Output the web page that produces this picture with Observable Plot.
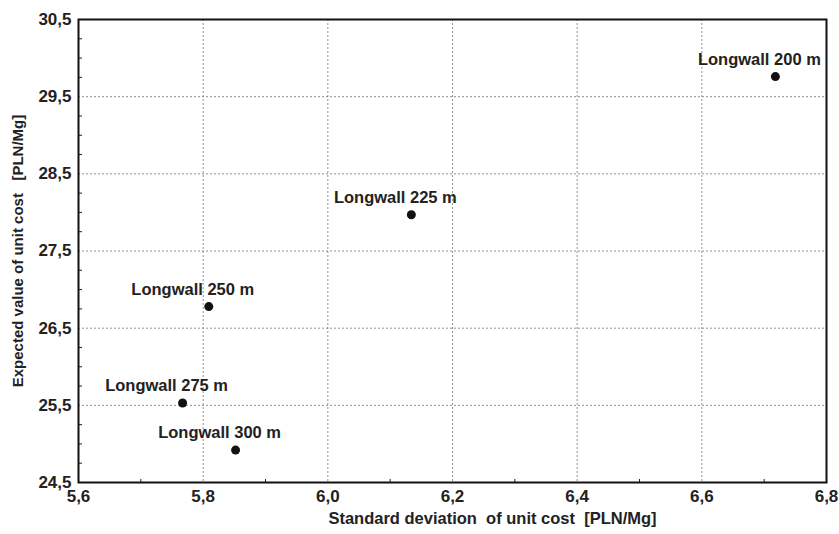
<!DOCTYPE html>
<html>
<head>
<meta charset="utf-8">
<script src="https://cdn.jsdelivr.net/npm/d3@7"></script>
<script src="https://cdn.jsdelivr.net/npm/@observablehq/plot@0.6"></script>
<style>
  html, body { margin: 0; padding: 0; background: #fff; }
  #chart svg { font-family: "Liberation Sans", Arial, sans-serif; }
</style>
</head>
<body>
<div id="chart"></div>
<script>
const names = ["Longwall 200 m", "Longwall 225 m", "Longwall 250 m", "Longwall 275 m", "Longwall 300 m"];
const stdDev = [6.718, 6.134, 5.809, 5.767, 5.852];
const expected = [29.76, 27.97, 26.78, 25.53, 24.92];
const xTicks = [5.6, 5.8, 6.0, 6.2, 6.4, 6.6, 6.8];
const yTicks = [24.5, 25.5, 26.5, 27.5, 28.5, 29.5, 30.5];
const xMinor = [5.7, 5.9, 6.1, 6.3, 6.5, 6.7];
const yMinor = [24.75, 25, 25.25, 25.75, 26, 26.25, 26.75, 27, 27.25, 27.75, 28, 28.25, 28.75, 29, 29.25, 29.75, 30, 30.25];
const xTitle = "Standard deviation  of unit cost  [PLN/Mg]";
const yTitle = "Expected value of unit cost   [PLN/Mg]";

const data = names.map((n, i) => ({name: n, x: stdDev[i], y: expected[i]}));
const fmt = d => d.toFixed(1).replace(".", ",");

const chart = Plot.plot({
  width: 839,
  height: 534,
  marginLeft: 78,
  marginRight: 13,
  marginTop: 19,
  marginBottom: 52,
  style: {fontFamily: '"Liberation Sans", Arial, sans-serif', background: "#fff"},
  x: {domain: [5.6, 6.8]},
  y: {domain: [24.5, 30.5]},
  marks: [
    Plot.gridX(xTicks.slice(1, -1), {stroke: "#666", strokeOpacity: 0.9, strokeDasharray: "2,2", strokeWidth: 0.8}),
    Plot.gridY(yTicks.slice(1, -1), {stroke: "#666", strokeOpacity: 0.9, strokeDasharray: "2,2", strokeWidth: 0.8}),
    Plot.axisX({ticks: xMinor, tickSize: -3, text: null, label: null, stroke: "#222"}),
    Plot.axisY({ticks: yMinor, tickSize: -4, text: null, label: null, stroke: "#222"}),
    Plot.axisX({
      ticks: xTicks, tickFormat: fmt, tickSize: 0, tickPadding: 7,
      fontSize: 17, fontWeight: "bold", fill: "#222", label: null
    }),
    Plot.axisY({
      ticks: yTicks, tickFormat: fmt, tickSize: 0, tickPadding: 7,
      fontSize: 17, fontWeight: "bold", fill: "#222",
      label: yTitle, labelAnchor: "center", labelArrow: "none", labelOffset: 66
    }),
    Plot.text([xTitle], {frameAnchor: "bottom", text: d => d, dx: 40, dy: 41, fontSize: 16.5, fontWeight: "bold", fill: "#222"}),
    Plot.frame({stroke: "#111", strokeWidth: 2}),
    Plot.dot(data, {x: "x", y: "y", r: 4.5, fill: "#111", stroke: "none"}),
    Plot.text(data, {x: "x", y: "y", text: "name", dx: -16, dy: -17, fontSize: 16.5, fontWeight: "bold", fill: "#222"})
  ]
});
chart.querySelectorAll("[aria-label='y-axis label'] text, [aria-label='y-axis label']").forEach(e => { e.setAttribute("font-size", 15); e.setAttribute("font-weight", "bold"); });
document.getElementById("chart").append(chart);
</script>
</body>
</html>
